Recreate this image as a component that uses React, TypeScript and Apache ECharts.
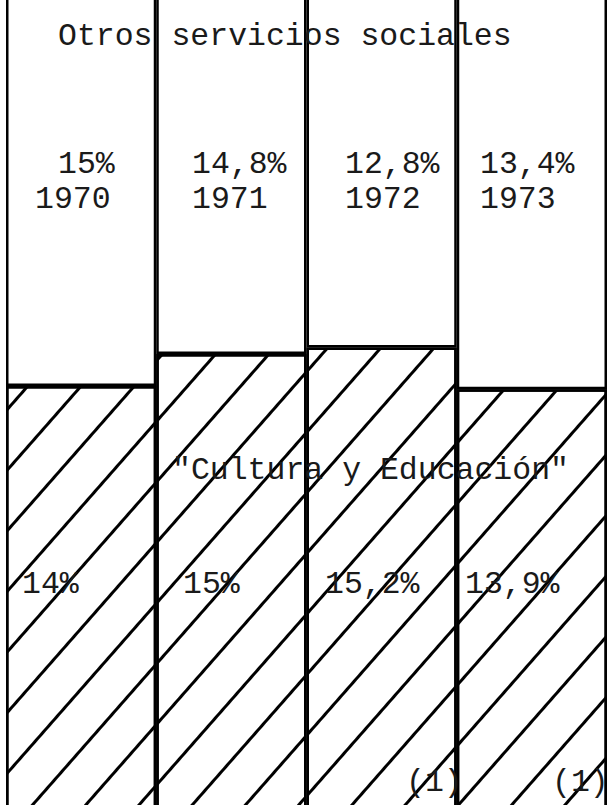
import React, { useEffect, useRef } from "react";
import * as echarts from "echarts";

// ---- data ----
const years = ["1970", "1971", "1972", "1973"];
const culturaValues = [14, 15, 15.2, 13.9];
const otrosValues = [15, 14.8, 12.8, 13.4];
const culturaLabels = ["14%", "15%", "15,2%", "13,9%"];
const otrosLabels = ["15%", "14,8%", "12,8%", "13,4%"];
const topTitle = "Otros servicios sociales";
const bottomTitle = "\"Cultura y Educación\"";
const noteMark = "(1)";
const noteYears = ["1972", "1973"];

// ---- layout (text placement only) ----
// the drawing is taller than the page: the chart box starts above the page top
const OFF = 130;
const FONT = "31.5px 'Liberation Mono', 'DejaVu Sans Mono', monospace";
const otrosLabelX = [58, 192, 345, 480];
const yearLabelX = [35, 192, 345, 480];
const culturaLabelX = [22, 183, 325, 465];
const noteX: Record<string, number> = { "1972": 406, "1973": 552 };

export default function App() {
  const ref = useRef<HTMLDivElement>(null);
  useEffect(() => {
    if (!ref.current) return;
    const chart = echarts.init(ref.current, null, { renderer: "svg" });
    const txt = (text: string, x: number, y: number) => ({
      type: "text",
      x,
      y: y + OFF,
      z: 100,
      silent: true,
      style: {
        text,
        font: FONT,
        lineHeight: 30,
        fill: "#1a1a1a",
        align: "left",
        verticalAlign: "middle",
      },
    });
    const graphics: any[] = [txt(topTitle, 58, 36)];
    otrosLabels.forEach((t, i) => graphics.push(txt(t, otrosLabelX[i], 164)));
    years.forEach((t, i) => graphics.push(txt(t, yearLabelX[i], 199)));
    graphics.push(txt(bottomTitle, 172, 470));
    culturaLabels.forEach((t, i) => graphics.push(txt(t, culturaLabelX[i], 584)));
    noteYears.forEach((y) => graphics.push(txt(noteMark, noteX[y], 782)));

    chart.setOption({
      animation: false,
      backgroundColor: "#fff",
      grid: { left: 6, right: 3, top: 4, bottom: 16 },
      xAxis: { type: "category", data: years, show: false },
      yAxis: { type: "value", min: 0, max: 30, show: false },
      series: [
        {
          name: "Cultura y Educación",
          type: "bar",
          stack: "total",
          barCategoryGap: "0%",
          data: culturaValues,
          itemStyle: {
            color: "#fff",
            borderColor: "#000",
            borderWidth: 2.5,
            decal: {
              symbol: "rect",
              symbolSize: 1,
              color: "#000",
              backgroundColor: "#fff",
              dashArrayX: [1, 0],
              dashArrayY: [2.5, 37],
              rotation: -0.85,
            },
          },
          silent: true,
        },
        {
          name: "Otros servicios sociales",
          type: "bar",
          stack: "total",
          barCategoryGap: "0%",
          data: otrosValues,
          itemStyle: { color: "#fff", borderColor: "#000", borderWidth: 2.5 },
          silent: true,
        },
      ],
      graphic: graphics,
    });
    return () => chart.dispose();
  }, []);
  return (
    <div
      ref={ref}
      style={{ position: "fixed", left: 0, top: -OFF, width: 610, height: 980, background: "#fff" }}
    />
  );
}
